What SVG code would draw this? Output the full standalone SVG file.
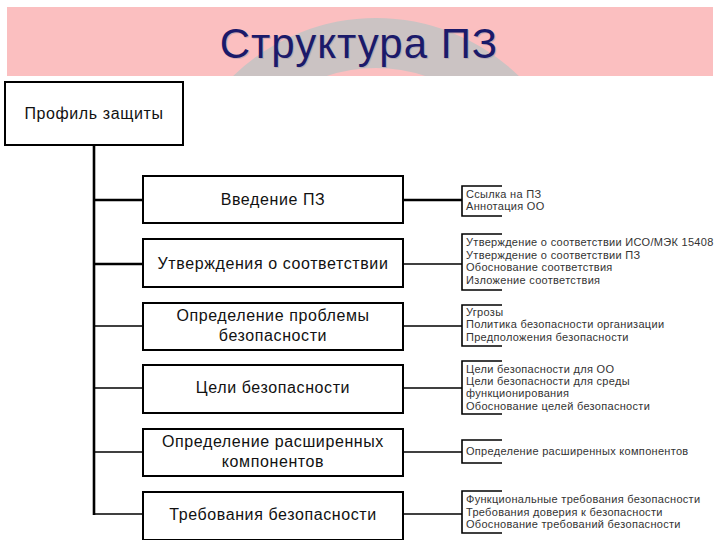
<svg xmlns="http://www.w3.org/2000/svg" width="720" height="540" viewBox="0 0 720 540">
  <style>
    .box { fill: #ffffff; stroke: #000000; stroke-width: 2; }
    .main { font-family: "Liberation Sans", "DejaVu Sans", sans-serif; font-size: 16px; letter-spacing: 0.6px; fill: #111111; text-anchor: middle; }
    .note { font-family: "Liberation Sans", "DejaVu Sans", sans-serif; font-size: 11px; letter-spacing: 0.3px; fill: #333333; }
    .ln { fill: none; stroke: #000000; stroke-width: 1.6; }
    .thick { stroke-width: 2.6; }
    .br { fill: none; stroke: #000000; stroke-width: 1.6; }
  </style>
  <defs>
    <clipPath id="bandClip"><rect x="7" y="7" width="706" height="69"/></clipPath>
  </defs>
  <rect width="720" height="540" fill="#ffffff"/>
  <g id="title">
    <rect x="7" y="7" width="706" height="69" fill="#fbbfc0"/>
    <g clip-path="url(#bandClip)">
      <circle cx="376" cy="223" r="180" fill="none" stroke="#cbc3c3" stroke-width="50"/>
    </g>
    <text x="360" y="59" font-family="Liberation Sans, Arial, sans-serif" font-size="42" letter-spacing="1" fill="#9a8fa0" text-anchor="middle" opacity="0.45">Структура ПЗ</text>
    <text x="359" y="58" font-family="Liberation Sans, Arial, sans-serif" font-size="42" letter-spacing="1" fill="#1b1a6a" text-anchor="middle">Структура ПЗ</text>
  </g>

  <g id="connectors">
    <line class="ln thick" x1="94" y1="145" x2="94" y2="515"/>
    <line class="ln thick" x1="94" y1="200" x2="143" y2="200"/>
    <line class="ln thick" x1="94" y1="264" x2="143" y2="264"/>
    <line class="ln" x1="94" y1="326" x2="143" y2="326"/>
    <line class="ln" x1="94" y1="388" x2="143" y2="388"/>
    <line class="ln" x1="94" y1="452" x2="143" y2="452"/>
    <line class="ln" x1="94" y1="514" x2="143" y2="514"/>
    <line class="ln thick" x1="403" y1="200" x2="462" y2="200"/>
    <line class="ln" x1="403" y1="264" x2="462" y2="264"/>
    <line class="ln" x1="403" y1="326" x2="462" y2="326"/>
    <line class="ln" x1="403" y1="388" x2="462" y2="388"/>
    <line class="ln" x1="403" y1="452" x2="462" y2="452"/>
    <line class="ln" x1="403" y1="514" x2="462" y2="514"/>
  </g>

  <g id="profile">
    <rect class="box" x="5" y="82" width="178" height="63"/>
    <text class="main" x="94" y="119">Профиль защиты</text>
  </g>

  <g id="intro">
    <rect class="box" x="143" y="176" width="260" height="47"/>
    <text class="main" x="273" y="205">Введение ПЗ</text>
  </g>
  <g id="conformance">
    <rect class="box" x="143" y="239" width="260" height="48"/>
    <text class="main" x="273" y="269">Утверждения о соответствии</text>
  </g>
  <g id="problem">
    <rect class="box" x="143" y="303" width="260" height="47"/>
    <text class="main" x="273" y="321">Определение проблемы</text>
    <text class="main" x="273" y="341">безопасности</text>
  </g>
  <g id="objectives">
    <rect class="box" x="143" y="365" width="260" height="48"/>
    <text class="main" x="273" y="393">Цели безопасности</text>
  </g>
  <g id="extended">
    <rect class="box" x="143" y="429" width="260" height="47"/>
    <text class="main" x="273" y="447">Определение расширенных</text>
    <text class="main" x="273" y="467">компонентов</text>
  </g>
  <g id="requirements">
    <rect class="box" x="143" y="492" width="260" height="48"/>
    <text class="main" x="273" y="520">Требования безопасности</text>
  </g>

  <g id="note1">
    <path class="br" d="M502,186 H462 V216 H502"/>
    <text class="note" x="466" y="198">Ссылка на ПЗ</text>
    <text class="note" x="466" y="210">Аннотация ОО</text>
  </g>
  <g id="note2">
    <path class="br" d="M502,234 H462 V290 H502"/>
    <text class="note" x="466" y="246">Утверждение о соответствии ИСО/МЭК 15408</text>
    <text class="note" x="466" y="259">Утверждение о соответствии ПЗ</text>
    <text class="note" x="466" y="271">Обоснование соответствия</text>
    <text class="note" x="466" y="284">Изложение соответствия</text>
  </g>
  <g id="note3">
    <path class="br" d="M502,305 H462 V346 H502"/>
    <text class="note" x="466" y="316">Угрозы</text>
    <text class="note" x="466" y="328">Политика безопасности организации</text>
    <text class="note" x="466" y="341">Предположения безопасности</text>
  </g>
  <g id="note4">
    <path class="br" d="M502,361 H462 V414 H502"/>
    <text class="note" x="466" y="373">Цели безопасности для ОО</text>
    <text class="note" x="466" y="385">Цели безопасности для среды</text>
    <text class="note" x="466" y="397">функционирования</text>
    <text class="note" x="466" y="410">Обоснование целей безопасности</text>
  </g>
  <g id="note5">
    <path class="br" d="M502,440 H462 V463 H502"/>
    <text class="note" x="466" y="455">Определение расширенных компонентов</text>
  </g>
  <g id="note6">
    <path class="br" d="M502,491 H462 V533 H502"/>
    <text class="note" x="466" y="503">Функциональные требования безопасности</text>
    <text class="note" x="466" y="516">Требования доверия к безопасности</text>
    <text class="note" x="466" y="528">Обоснование требований безопасности</text>
  </g>
</svg>
